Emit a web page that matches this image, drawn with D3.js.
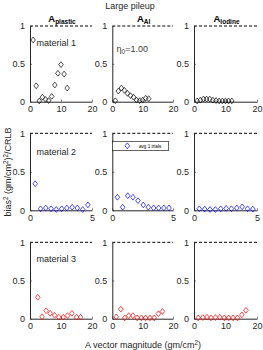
<!DOCTYPE html>
<html>
<head>
<meta charset="utf-8">
<script src="https://cdn.jsdelivr.net/npm/d3@7"></script>
<style>
  body { margin: 0; background: #fff; }
  svg { display: block; font-family: "Liberation Sans", Arial, sans-serif; }
</style>
</head>
<body>
<svg id="fig" width="263" height="350"></svg>
<script>
"use strict";

// values
const row1X = [1, 2, 3, 4, 5, 6, 7, 8, 9, 10, 11, 12];
const r1Plastic = [0.815, 0.21, 0.01, 0.06, 0.03, 0.015, 0.07, 0.22, 0.375, 0.49, 0.365, 0.18];
const r1Al = [0.013, 0.14, 0.18, 0.15, 0.11, 0.08, 0.06, 0.02, 0.013, 0.02, 0.045, 0.04];
const r1Iodine = [0.01, 0.02, 0.035, 0.035, 0.035, 0.02, 0.015, 0.01, 0.01, 0.01, 0.01, 0.01];

const row2X = [0.42, 0.85, 1.27, 1.7, 2.12, 2.55, 2.97, 3.4, 3.82, 4.25, 4.67];
const r2Plastic = [0.345, 0.02, 0.03, 0.02, 0.01, 0.02, 0.03, 0.04, 0.03, 0.01, 0.07];
const r2Al = [0.17, 0.04, 0.19, 0.17, 0.125, 0.07, 0.04, 0.03, 0.03, 0.03, 0.03];
const r2Iodine = [0.02, 0.015, 0.01, 0.01, 0.02, 0.025, 0.02, 0.03, 0.045, 0.02, 0.015];

const row3XPlastic = [2.5, 3.9, 5.2, 6.5, 7.9, 9.3, 10.7, 12.1, 13.5, 15.0, 16.3];
const r3Plastic = [0.28, 0.025, 0.105, 0.07, 0.045, 0.02, 0.02, 0.04, 0.07, 0.02, 0.02];
const row3X = [1.3, 2.8, 4.1, 5.4, 6.8, 8.2, 9.6, 11.0, 12.4, 13.8, 15.2, 16.5];
const r3Al = [0.025, 0.125, 0.01, 0.04, 0.04, 0.01, 0.01, 0.01, 0.01, 0.01, 0.065, 0.095];
const r3Iodine = [0.01, 0.015, 0.02, 0.01, 0.015, 0.02, 0.01, 0.01, 0.01, 0.01, 0.05, 0.11];

const columnNames = ['plastic', 'Al', 'Iodine'];
const materialLabels = ['material 1', 'material 2', 'material 3'];
const rowXMax = [20, 5, 20];
const rowXTicks = [[0, 10, 20], [0, 5], [0, 10, 20]];
const yTicks = [0, 0.5, 1];
const rowColors = ['#000000', '#0000ff', '#ff0000'];

const panels = [
  [[row1X, r1Plastic], [row1X, r1Al], [row1X, r1Iodine]],
  [[row2X, r2Plastic], [row2X, r2Al], [row2X, r2Iodine]],
  [[row3XPlastic, r3Plastic], [row3X, r3Al], [row3X, r3Iodine]]
];

// layout of the axes boxes (pixels)
const colL = [30, 112.3, 194], colR = [92, 173, 257];
const rowT = [26, 133.3, 242.3], rowB = [101.7, 210.3, 318.7];
const ink = '#262626';

const svg = d3.select('#fig');

const diamond = (x, y) => `M${x},${y - 2.9}L${x + 2.3},${y}L${x},${y + 2.9}L${x - 2.3},${y}Z`;

panels.forEach((row, r) => {
  row.forEach(([xs, ys], c) => {
    let x = d3.scaleLinear().domain([0, rowXMax[r]]).range([colL[c], colR[c]]);
    let y = d3.scaleLinear().domain([0, 1]).range([rowB[r], rowT[r]]);
    let g = svg.append('g');

    // dashed reference at 1
    g.append('line')
      .attr('x1', x(0)).attr('x2', x(rowXMax[r]))
      .attr('y1', y(1)).attr('y2', y(1))
      .attr('stroke', '#000').attr('stroke-width', 1)
      .attr('stroke-dasharray', '3,2');

    let ax = g.append('g').attr('transform', `translate(0,${y(0)})`)
      .call(d3.axisBottom(x).tickValues(rowXTicks[r]).tickFormat(d3.format('d'))
        .tickSizeInner(-2).tickSizeOuter(0).tickPadding(4));
    let ay = g.append('g').attr('transform', `translate(${x(0)},0)`)
      .call(d3.axisLeft(y).tickValues(yTicks).tickFormat(d => d === 0.5 ? '0.5' : d3.format('d')(d))
        .tickSizeInner(-2).tickSizeOuter(0).tickPadding(5));

    [ax, ay].forEach(a => {
      a.select('.domain').attr('stroke', ink).attr('stroke-width', 1);
      a.selectAll('.tick line').attr('stroke', ink).attr('stroke-width', 0.6);
      a.selectAll('.tick text').attr('fill', ink).style('font-size', '9px')
        .style('font-family', '"Liberation Sans", Arial, sans-serif');
    });

    g.selectAll('path.pt')
      .data(ys.map((v, i) => [xs[i], v]))
      .join('path')
      .attr('class', 'pt')
      .attr('d', d => diamond(x(d[0]), y(d[1])))
      .attr('fill', 'none')
      .attr('stroke', rowColors[r])
      .attr('stroke-width', 0.7);

    if (c === 0) {
      g.append('text').attr('x', x(0) + 6.5).attr('y', [45.5, 154.5, 262][r])
        .attr('fill', ink).style('font-size', '9px').text(materialLabels[r]);
    }
  });
});

// eta annotation in the Al panel of row 1
let eta = svg.append('text').attr('x', 116.5).attr('y', 52)
  .attr('fill', '#404040').style('font-size', '9px');
eta.append('tspan').text('\u03b7');
eta.append('tspan').attr('dy', 2).style('font-size', '6.5px').text('0');
eta.append('tspan').attr('dy', -2).text('=1.00');

// legend in the Al panel of row 2
let lg = svg.append('g');
lg.append('rect').attr('x', 112.3).attr('y', 141.3).attr('width', 56).attr('height', 9.4)
  .attr('fill', '#fff').attr('stroke', '#000').attr('stroke-width', 0.6);
lg.append('path').attr('d', diamond(127.3, 145.8))
  .attr('fill', 'none').attr('stroke', rowColors[1]).attr('stroke-width', 0.7);
lg.append('text').attr('x', 139).attr('y', 147.6).attr('fill', '#000')
  .style('font-size', '4.6px').text('avg 1 trials');

// column titles
columnNames.forEach((name, c) => {
  let t = svg.append('text').attr('x', (colL[c] + colR[c]) / 2 + 1).attr('y', 21.5)
    .attr('text-anchor', 'middle').attr('fill', '#000')
    .style('font-size', '9.5px').style('font-weight', 'bold');
  t.append('tspan').text('A');
  t.append('tspan').attr('dy', 2.5).style('font-size', '6.5px').text(name);
});

// figure title
svg.append('text').attr('x', 130).attr('y', 9).attr('text-anchor', 'middle')
  .attr('fill', ink).style('font-size', '9px').text('Large pileup');

// x axis title
let xt = svg.append('text').attr('x', 143).attr('y', 348).attr('text-anchor', 'middle')
  .attr('fill', ink).style('font-size', '9px');
xt.append('tspan').text('A vector magnitude (gm/cm');
xt.append('tspan').attr('dy', -3.5).style('font-size', '6.3px').text('2');
xt.append('tspan').attr('dy', 3.5).text(')');

// y axis title
let yt = svg.append('text').attr('transform', 'translate(11,172) rotate(-90)')
  .attr('text-anchor', 'middle').attr('fill', ink).style('font-size', '9px');
yt.append('tspan').text('bias');
yt.append('tspan').attr('dy', -3.5).style('font-size', '6.3px').text('2');
yt.append('tspan').attr('dy', 3.5).text(' (gm/cm');
yt.append('tspan').attr('dy', -3.5).style('font-size', '6.3px').text('2');
yt.append('tspan').attr('dy', 3.5).text(')');
yt.append('tspan').attr('dy', -3.5).style('font-size', '6.3px').text('2');
yt.append('tspan').attr('dy', 3.5).text('/CRLB');
</script>
</body>
</html>
